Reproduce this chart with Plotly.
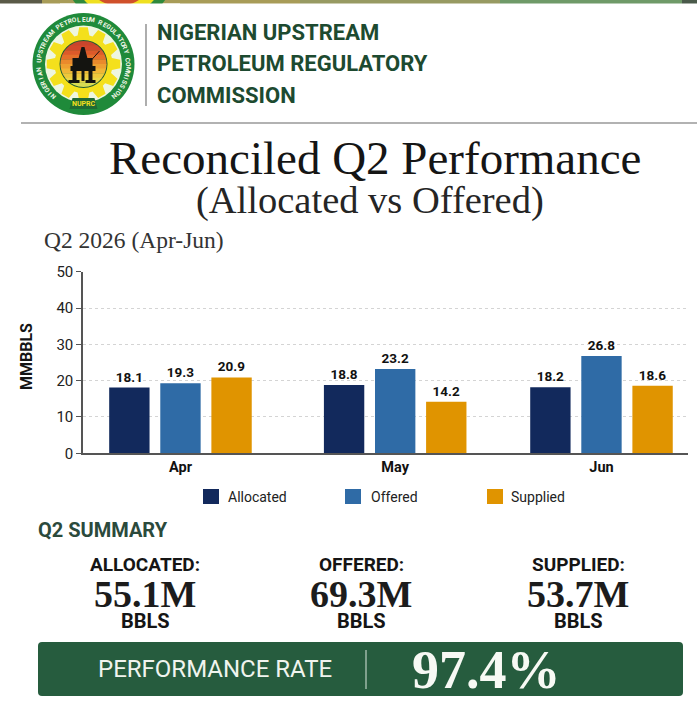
import math
import plotly.graph_objects as go

W, H = 697, 719

months = ["Apr", "May", "Jun"]
month_pos = [0, 1.02, 2]
allocated = [18.1, 18.8, 18.2]
offered = [19.3, 23.2, 26.8]
supplied = [20.9, 14.2, 18.6]
series_names = ["Allocated", "Offered", "Supplied"]
series_colors = ["#12295c", "#2f6ba6", "#e09400"]
y_ticks = [0, 10, 20, 30, 40, 50]

header_lines = ["NIGERIAN UPSTREAM", "PETROLEUM REGULATORY", "COMMISSION"]
summary_labels = ["ALLOCATED:", "OFFERED:", "SUPPLIED:"]
summary_values = ["55.1M", "69.3M", "53.7M"]

SANS = "Roboto"
SERIF = "Liberation Serif"
GREEN = "#265c3e"

shapes = []
annotations = []


# page pixels -> paper coords, easier for the header and summary parts
def fx(x):
    return x / W


def fy(y):
    return 1 - y / H


def rect(x0, y0, x1, y1, color):
    shapes.append(dict(type="rect", xref="paper", yref="paper", x0=fx(x0), y0=fy(y0), x1=fx(x1), y1=fy(y1),
                       fillcolor=color, line=dict(width=0), layer="below"))


def circle(cx, cy, r, color, line_color=None, line_width=0):
    shapes.append(dict(type="circle", xref="paper", yref="paper",
                       x0=fx(cx - r), x1=fx(cx + r), y0=fy(cy - r), y1=fy(cy + r),
                       fillcolor=color, line=dict(width=line_width, color=line_color), layer="below"))


def poly(points, color):
    path = "M " + " L ".join(f"{fx(x):.5f},{fy(y):.5f}" for x, y in points) + " Z"
    shapes.append(dict(type="path", xref="paper", yref="paper", path=path, fillcolor=color,
                       line=dict(width=0), layer="below"))


def line(x0, y0, x1, y1, color, width=1):
    shapes.append(dict(type="line", xref="paper", yref="paper", x0=fx(x0), y0=fy(y0), x1=fx(x1), y1=fy(y1),
                       line=dict(color=color, width=width), layer="below"))


def label(x, y, text, size, color="#111111", family=SANS, anchor="center", angle=0):
    annotations.append(dict(xref="paper", yref="paper", x=fx(x), y=fy(y), text=text, showarrow=False,
                            xanchor=anchor, yanchor="middle", textangle=angle,
                            font=dict(family=family, size=size, color=color)))


# strip of the previous frame at the very top
rect(0, 0, 42, 3.5, "#5a5a48")
rect(42, 0, 300, 3.5, "#a89c58")
rect(300, 0, 500, 3.5, "#979a62")
rect(500, 0, 682, 3.5, "#6f9a68")
rect(682, 0, 697, 3.5, "#4a5a4a")
circle(119, -30, 55, "#2f8a3c")
circle(119, -30, 46, "#efe020")
circle(119, -30, 36, "#d0502a")
rect(60, 3.5, 180, 40, "#ffffff")

# logo
cx, cy = 83.5, 64
circle(cx, cy, 51, "#1f8a3a")
circle(cx, cy, 38.5, "#eef6e0")
gear = []
teeth = 12
for i in range(teeth):
    a = 2 * math.pi * i / teeth
    step = 2 * math.pi / teeth
    for da, r in [(-0.30, 29), (-0.17, 37), (0.17, 37), (0.30, 29)]:
        ang = a + da * step * 1.3
        gear.append((cx + r * math.sin(ang), cy - r * math.cos(ang)))
poly(gear, "#f4e01c")
circle(cx, cy, 24, "#1f5a34")
disc_colors = ["#c9452c", "#d2482b", "#dc5a2a", "#e46f2a", "#ea8a2c", "#eea030", "#f0b636", "#efc83c", "#e8d648",
               "#d8dc52"]
disc_r = 23
for i, c in enumerate(disc_colors):
    top = -disc_r + 2 * disc_r * i / len(disc_colors)
    bot = -disc_r + 2 * disc_r * (i + 1) / len(disc_colors) + 0.4
    bot = min(bot, disc_r)
    pts = []
    for k in range(9):
        t = top + (bot - top) * k / 8
        pts.append((cx + math.sqrt(max(disc_r**2 - t**2, 0)), cy + t))
    for k in range(8, -1, -1):
        t = top + (bot - top) * k / 8
        pts.append((cx - math.sqrt(max(disc_r**2 - t**2, 0)), cy + t))
    poly(pts, c)
# oil rig
rect(cx - 13, cy + 2, cx + 12, cy + 7, "#141410")
rect(cx - 11, cy + 7, cx - 7, cy + 19, "#141410")
rect(cx + 5, cy + 7, cx + 9, cy + 19, "#141410")
rect(cx - 2, cy + 7, cx + 1, cy + 17, "#141410")
rect(cx - 15, cy + 16, cx - 4, cy + 19, "#141410")
rect(cx + 2, cy + 16, cx + 12, cy + 19, "#141410")
poly([(cx - 7, cy + 2), (cx - 2, cy - 17), (cx + 1, cy - 17), (cx + 6, cy + 2)], "#141410")
rect(cx - 11, cy - 6, cx + 9, cy + 2, "#141410")
line(cx + 7, cy - 3, cx + 16, cy - 13, "#141410", 1)
poly([(cx - 14, cy + 45), (cx + 14, cy + 45), (cx + 11, cy + 34), (cx - 11, cy + 34)], "#1f6a34")
label(cx, cy + 40, "<b>NUPRC</b>", 7, "#f4e01c")

ring_text = "NIGERIAN UPSTREAM PETROLEUM REGULATORY COMMISSION"
start_deg, end_deg = -137, 137
for i, ch in enumerate(ring_text):
    deg = start_deg + (end_deg - start_deg) * i / (len(ring_text) - 1)
    rad = math.radians(deg)
    if ch != " ":
        label(cx + 44.5 * math.sin(rad), cy - 44.5 * math.cos(rad), f"<b>{ch}</b>", 6.5, "#f2f7e8", angle=deg)

line(146, 24, 146, 106, "#777777", 1.2)
for text, y in zip(header_lines, [32, 64, 95]):
    label(155, y, f"<b>{text}</b>", 22, "#1d4a30", anchor="left")
line(21, 123, 697, 123, "#999999", 1.5)

# titles
label(375, 158, "Reconciled Q2 Performance", 47, "#151515", family=SERIF)
label(370, 200, "(Allocated vs Offered)", 38.5, "#252525", family=SERIF)
label(42, 240, "Q2 2026 (Apr-Jun)", 23.5, "#333333", family=SERIF, anchor="left")
label(26, 357, "<b>MMBBLS</b>", 16, "#151515", angle=-90)

# legend, placed by hand because the swatches are bigger than plotly's
for name, color, sx, tx in zip(series_names, series_colors, [203, 345, 487], [226, 369, 509]):
    rect(sx, 489, sx + 16, 504, color)
    label(tx, 497, name, 14, "#222222", anchor="left")

# summary
label(36, 530, "<b>Q2 SUMMARY</b>", 20, "#2b4a3c", anchor="left")
for text, value, x in zip(summary_labels, summary_values, [145, 361, 578]):
    label(x, 564, f"<b>{text}</b>", 19, "#151515")
    label(x, 594, f"<b>{value}</b>", 38, "#1c1c1c", family=SERIF)
    label(x, 621, "<b>BBLS</b>", 20, "#151515")

# performance bar, corners slightly rounded
bx0, bx1, by0, by1, rad = 38, 683, 642, 696, 4
bar_path = (f"M {fx(bx0 + rad)},{fy(by0)} L {fx(bx1 - rad)},{fy(by0)} Q {fx(bx1)},{fy(by0)} {fx(bx1)},{fy(by0 + rad)} "
            f"L {fx(bx1)},{fy(by1 - rad)} Q {fx(bx1)},{fy(by1)} {fx(bx1 - rad)},{fy(by1)} "
            f"L {fx(bx0 + rad)},{fy(by1)} Q {fx(bx0)},{fy(by1)} {fx(bx0)},{fy(by1 - rad)} "
            f"L {fx(bx0)},{fy(by0 + rad)} Q {fx(bx0)},{fy(by0)} {fx(bx0 + rad)},{fy(by0)} Z")
shapes.append(dict(type="path", xref="paper", yref="paper", path=bar_path, fillcolor=GREEN,
                   line=dict(width=0), layer="below"))
line(366, 650, 366, 689, "#d8e6dc", 1)
label(214.5, 669, "PERFORMANCE RATE", 24, "#f0f4ee")
label(486, 670, "<b>97.4%</b>", 54, "#f7f9f4", family=SERIF)

fig = go.Figure()
for name, values, color in zip(series_names, [allocated, offered, supplied], series_colors):
    fig.add_trace(go.Bar(
        x=month_pos, y=values, name=name, marker=dict(color=color, line=dict(width=0)),
        text=[f"<b>{v:.1f}</b>" for v in values], textposition="outside", cliponaxis=False,
        textfont=dict(family=SANS, size=13.5, color="#111111"),
    ))

fig.update_layout(
    width=W, height=H,
    margin=dict(l=0, r=0, t=0, b=0),
    paper_bgcolor="white", plot_bgcolor="white",
    barmode="group", bargap=0.257, bargroupgap=0.21,
    showlegend=False,
    shapes=shapes, annotations=annotations,
    xaxis=dict(domain=[83 / W, 688 / W], range=[-0.463, 2.411], automargin=False,
               tickvals=month_pos, ticktext=[f"<b>{m}</b>" for m in months],
               showgrid=False, zeroline=False, showline=True, linecolor="#555555", linewidth=1.5,
               ticks="", ticklen=0, tickfont=dict(family=SANS, size=14.5, color="#111111")),
    yaxis=dict(domain=[1 - 453.3 / H, 1 - 271.7 / H], range=[0, 50], tickvals=y_ticks, automargin=False,
               showgrid=True, gridcolor="#d4d4d4", griddash="dot", gridwidth=1, zeroline=False,
               showline=True, linecolor="#555555", linewidth=1.5,
               ticks="outside", ticklen=5, tickcolor="#555555", tickwidth=1.2,
               tickfont=dict(family=SANS, size=15, color="#222222")),
)

fig.write_html("out.html", config={"displayModeBar": False}, post_script="document.body.style.margin='0';")
